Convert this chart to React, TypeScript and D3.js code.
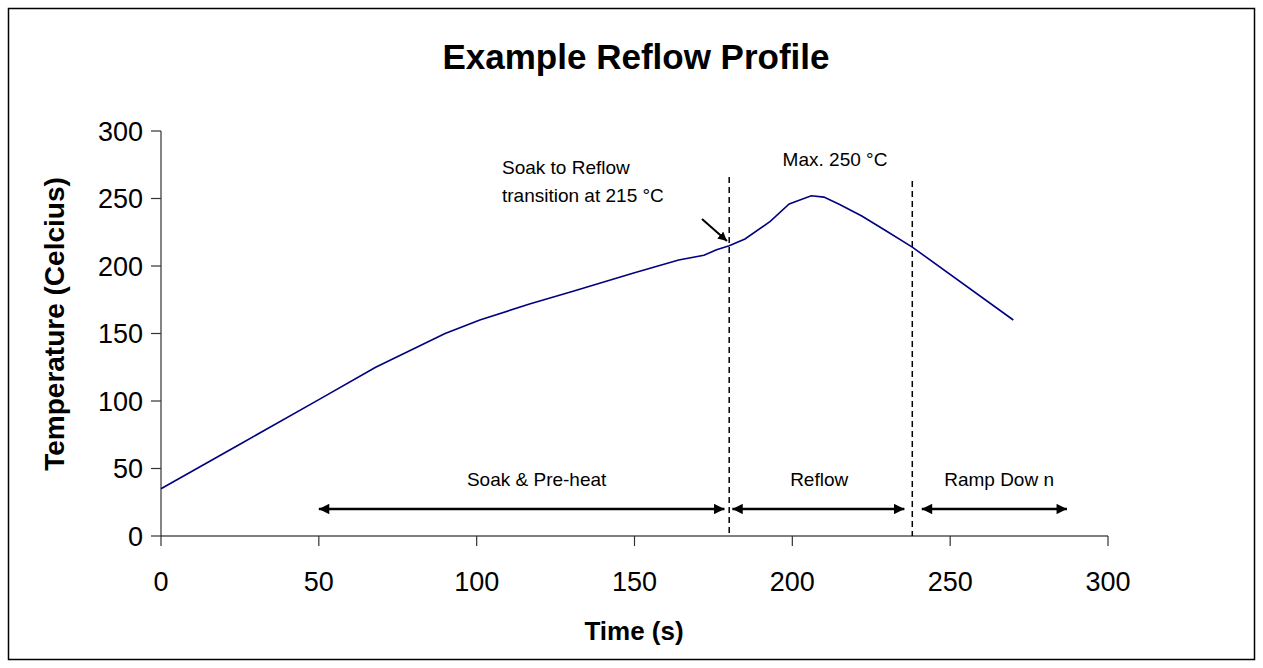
import * as d3 from 'd3';

// reflow profile samples
const timeSec = [0, 25, 50, 68, 90, 101, 117, 130, 150, 164, 172, 176, 180, 185, 193, 199, 206, 210, 215, 222, 229, 238, 270];
const tempC = [35, 68, 101, 125, 150, 160, 172, 181, 195, 204.5, 208, 212, 215, 220, 233, 246, 252, 251, 245.5, 237, 227, 214, 160];

const xTicks = [0, 50, 100, 150, 200, 250, 300];
const yTicks = [0, 50, 100, 150, 200, 250, 300];

// phase boundaries (s), with the top of each dashed line (C)
const phaseLines = [180, 238];
const phaseLineTop = [266, 263];
// spans drawn as double arrows
const phaseNames = ['Soak & Pre-heat', 'Reflow', 'Ramp Dow n'];
const phaseStart = [50, 181, 241];
const phaseEnd = [178.5, 235.5, 287];
const phaseLabelAt = [119, 208.5, 265.5];

const W = 1263;
const H = 668;
const FONT = 'Arial, "Liberation Sans", Helvetica, sans-serif';

export default function App() {
  const x = d3.scaleLinear().domain([0, 300]).range([161, 1108]);
  const y = d3.scaleLinear().domain([0, 300]).range([536, 131]);

  const pts = timeSec.map((t, i) => [t, tempC[i]] as [number, number]);
  const line = d3
    .line<[number, number]>()
    .x((d) => x(d[0]))
    .y((d) => y(d[1]));

  const arrowY = y(20);

  return (
    <svg
      width={W}
      height={H}
      style={{ position: 'absolute', left: 0, top: 0, background: '#fff' }}
      fontFamily={FONT}
    >
      <defs>
        <marker id="head" viewBox="0 0 10 10" refX="10" refY="5" markerWidth="4.6" markerHeight="4" orient="auto-start-reverse">
          <path d="M0,0 L10,5 L0,10 z" fill="#000" />
        </marker>
        <marker id="small" viewBox="0 0 10 10" refX="10" refY="5" markerWidth="4.5" markerHeight="4.5" orient="auto">
          <path d="M0,0 L10,5 L0,10 z" fill="#000" />
        </marker>
      </defs>

      <rect x={8.5} y={8.5} width={1246} height={651} fill="#fff" stroke="#000" strokeWidth={1.5} />

      <text x={636} y={69} textAnchor="middle" fontSize={35} fontWeight="bold">
        Example Reflow Profile
      </text>

      {/* axes */}
      <line x1={x(0)} x2={x(0)} y1={y(300)} y2={y(0)} stroke="#333" strokeWidth={1.2} />
      <line x1={x(0)} x2={x(300)} y1={y(0)} y2={y(0)} stroke="#000" strokeWidth={1.2} />
      {yTicks.map((v) => (
        <g key={'y' + v}>
          <line x1={x(0) - 10} x2={x(0)} y1={y(v)} y2={y(v)} stroke="#333" strokeWidth={1.2} />
          <text x={143} y={y(v)} dy="0.36em" textAnchor="end" fontSize={27}>
            {v}
          </text>
        </g>
      ))}
      {xTicks.map((v) => (
        <g key={'x' + v}>
          <line x1={x(v)} x2={x(v)} y1={y(0)} y2={y(0) + 10} stroke="#333" strokeWidth={1.2} />
          <text x={x(v)} y={591} textAnchor="middle" fontSize={27}>
            {v}
          </text>
        </g>
      ))}

      <text x={634} y={640} textAnchor="middle" fontSize={26} fontWeight="bold">
        Time (s)
      </text>
      <text
        transform={`translate(64,${324}) rotate(-90)`}
        textAnchor="middle"
        fontSize={28}
        fontWeight="bold"
      >
        Temperature (Celcius)
      </text>

      {/* phase boundaries */}
      {phaseLines.map((t, i) => (
        <line
          key={t}
          x1={x(t)}
          x2={x(t)}
          y1={y(phaseLineTop[i])}
          y2={y(0)}
          stroke="#000"
          strokeWidth={1.5}
          strokeDasharray="6,4"
        />
      ))}

      {/* profile */}
      <path d={line(pts) ?? ''} fill="none" stroke="#000080" strokeWidth={1.6} />

      {/* phase spans */}
      {phaseNames.map((name, i) => (
        <g key={name}>
          <line
            x1={x(phaseStart[i])}
            x2={x(phaseEnd[i])}
            y1={arrowY}
            y2={arrowY}
            stroke="#000"
            strokeWidth={2.6}
            markerStart="url(#head)"
            markerEnd="url(#head)"
          />
          <text x={x(phaseLabelAt[i])} y={486} textAnchor="middle" fontSize={19}>
            {name}
          </text>
        </g>
      ))}

      {/* annotations */}
      <text x={835} y={166} textAnchor="middle" fontSize={19}>
        Max. 250 °C
      </text>
      <text x={502} y={174} fontSize={19}>
        Soak to Reflow
      </text>
      <text x={502} y={202} fontSize={19}>
        transition at 215 °C
      </text>
      <line x1={702} y1={219} x2={727} y2={241} stroke="#000" strokeWidth={2} markerEnd="url(#small)" />
    </svg>
  );
}
